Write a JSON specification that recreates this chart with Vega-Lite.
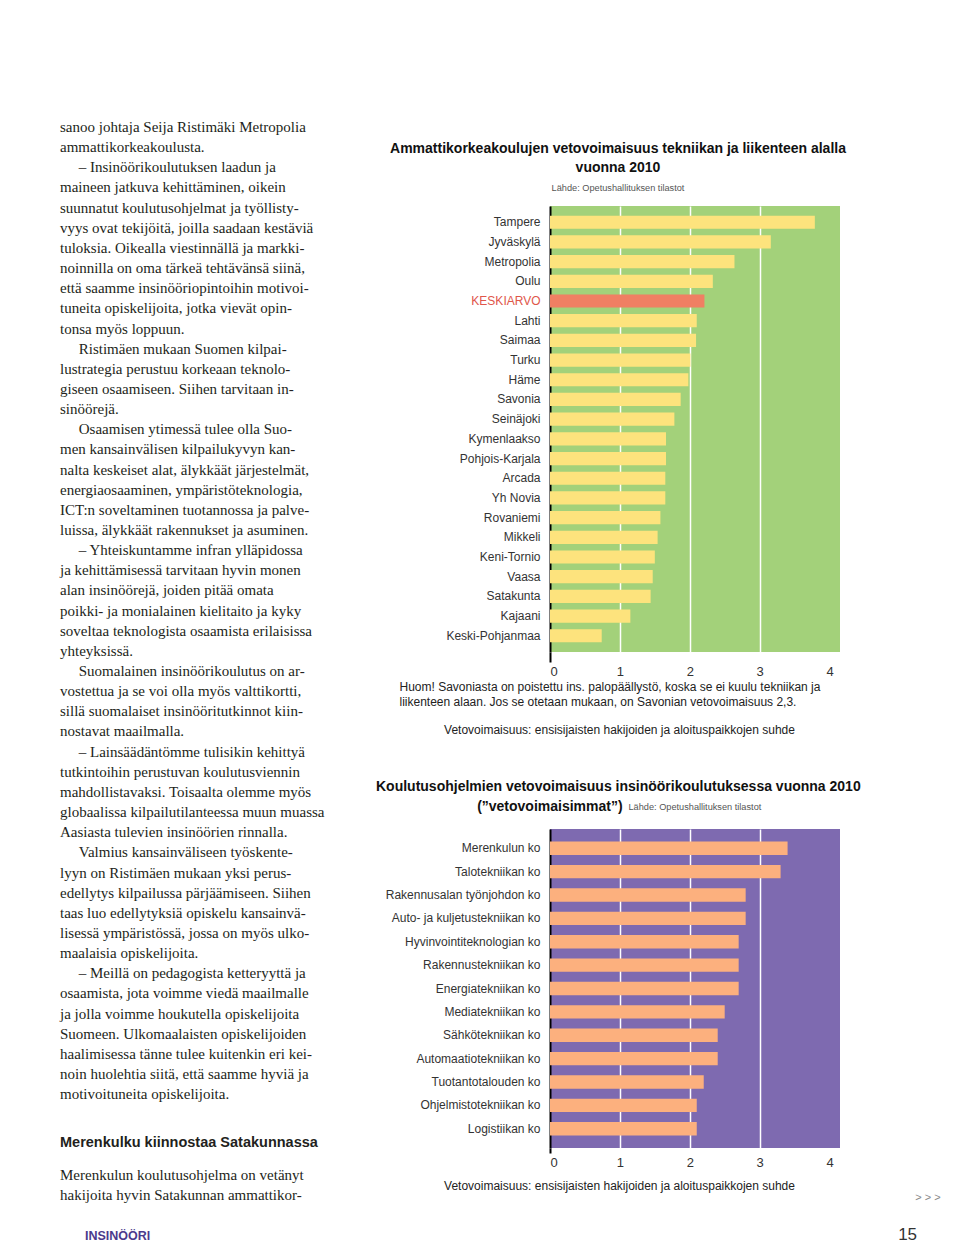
{
  "$schema": "https://vega.github.io/schema/vega-lite/v6.json",
  "background": "white",
  "padding": {"top": 120, "left": 60, "right": 15, "bottom": 6},
  "config": {"view": {"stroke": null}, "font": "Liberation Sans"},
  "datasets": {
    "article": [
      {"line": 1, "kind": "body", "text": "sanoo johtaja Seija Ristimäki Metropolia"},
      {"line": 2, "kind": "body", "text": "ammattikorkeakoulusta."},
      {"line": 3, "kind": "body", "text": "\u200b\u00a0\u00a0\u00a0\u00a0\u00a0– Insinöörikoulutuksen laadun ja"},
      {"line": 4, "kind": "body", "text": "maineen jatkuva kehittäminen, oikein"},
      {"line": 5, "kind": "body", "text": "suunnatut koulutusohjelmat ja työllisty-"},
      {"line": 6, "kind": "body", "text": "vyys ovat tekijöitä, joilla saadaan kestäviä"},
      {"line": 7, "kind": "body", "text": "tuloksia. Oikealla viestinnällä ja markki-"},
      {"line": 8, "kind": "body", "text": "noinnilla on oma tärkeä tehtävänsä siinä,"},
      {"line": 9, "kind": "body", "text": "että saamme insinööriopintoihin motivoi-"},
      {"line": 10, "kind": "body", "text": "tuneita opiskelijoita, jotka vievät opin-"},
      {"line": 11, "kind": "body", "text": "tonsa myös loppuun."},
      {"line": 12, "kind": "body", "text": "\u200b\u00a0\u00a0\u00a0\u00a0\u00a0Ristimäen mukaan Suomen kilpai-"},
      {"line": 13, "kind": "body", "text": "lustrategia perustuu korkeaan teknolo-"},
      {"line": 14, "kind": "body", "text": "giseen osaamiseen. Siihen tarvitaan in-"},
      {"line": 15, "kind": "body", "text": "sinöörejä."},
      {"line": 16, "kind": "body", "text": "\u200b\u00a0\u00a0\u00a0\u00a0\u00a0Osaamisen ytimessä tulee olla Suo-"},
      {"line": 17, "kind": "body", "text": "men kansainvälisen kilpailukyvyn kan-"},
      {"line": 18, "kind": "body", "text": "nalta keskeiset alat, älykkäät järjestelmät,"},
      {"line": 19, "kind": "body", "text": "energiaosaaminen, ympäristöteknologia,"},
      {"line": 20, "kind": "body", "text": "ICT:n soveltaminen tuotannossa ja palve-"},
      {"line": 21, "kind": "body", "text": "luissa, älykkäät rakennukset ja asuminen."},
      {"line": 22, "kind": "body", "text": "\u200b\u00a0\u00a0\u00a0\u00a0\u00a0– Yhteiskuntamme infran ylläpidossa"},
      {"line": 23, "kind": "body", "text": "ja kehittämisessä tarvitaan hyvin monen"},
      {"line": 24, "kind": "body", "text": "alan insinöörejä, joiden pitää omata"},
      {"line": 25, "kind": "body", "text": "poikki- ja monialainen kielitaito ja kyky"},
      {"line": 26, "kind": "body", "text": "soveltaa teknologista osaamista erilaisissa"},
      {"line": 27, "kind": "body", "text": "yhteyksissä."},
      {"line": 28, "kind": "body", "text": "\u200b\u00a0\u00a0\u00a0\u00a0\u00a0Suomalainen insinöörikoulutus on ar-"},
      {"line": 29, "kind": "body", "text": "vostettua ja se voi olla myös valttikortti,"},
      {"line": 30, "kind": "body", "text": "sillä suomalaiset insinööritutkinnot kiin-"},
      {"line": 31, "kind": "body", "text": "nostavat maailmalla."},
      {"line": 32, "kind": "body", "text": "\u200b\u00a0\u00a0\u00a0\u00a0\u00a0– Lainsäädäntömme tulisikin kehittyä"},
      {"line": 33, "kind": "body", "text": "tutkintoihin perustuvan koulutusviennin"},
      {"line": 34, "kind": "body", "text": "mahdollistavaksi. Toisaalta olemme myös"},
      {"line": 35, "kind": "body", "text": "globaalissa kilpailutilanteessa muun muassa"},
      {"line": 36, "kind": "body", "text": "Aasiasta tulevien insinöörien rinnalla."},
      {"line": 37, "kind": "body", "text": "\u200b\u00a0\u00a0\u00a0\u00a0\u00a0Valmius kansainväliseen työskente-"},
      {"line": 38, "kind": "body", "text": "lyyn on Ristimäen mukaan yksi perus-"},
      {"line": 39, "kind": "body", "text": "edellytys kilpailussa pärjäämiseen. Siihen"},
      {"line": 40, "kind": "body", "text": "taas luo edellytyksiä opiskelu kansainvä-"},
      {"line": 41, "kind": "body", "text": "lisessä ympäristössä, jossa on myös ulko-"},
      {"line": 42, "kind": "body", "text": "maalaisia opiskelijoita."},
      {"line": 43, "kind": "body", "text": "\u200b\u00a0\u00a0\u00a0\u00a0\u00a0– Meillä on pedagogista ketteryyttä ja"},
      {"line": 44, "kind": "body", "text": "osaamista, jota voimme viedä maailmalle"},
      {"line": 45, "kind": "body", "text": "ja jolla voimme houkutella opiskelijoita"},
      {"line": 46, "kind": "body", "text": "Suomeen. Ulkomaalaisten opiskelijoiden"},
      {"line": 47, "kind": "body", "text": "haalimisessa tänne tulee kuitenkin eri kei-"},
      {"line": 48, "kind": "body", "text": "noin huolehtia siitä, että saamme hyviä ja"},
      {"line": 49, "kind": "body", "text": "motivoituneita opiskelijoita."},
      {"line": 51.4, "kind": "heading", "text": "Merenkulku kiinnostaa Satakunnassa"},
      {"line": 53, "kind": "body", "text": "Merenkulun koulutusohjelma on vetänyt"},
      {"line": 54, "kind": "body", "text": "hakijoita hyvin Satakunnan ammattikor-"}
    ],
    "schools": [
      {"school": "Tampere", "value": 3.79},
      {"school": "Jyväskylä", "value": 3.16},
      {"school": "Metropolia", "value": 2.64},
      {"school": "Oulu", "value": 2.33},
      {"school": "KESKIARVO", "value": 2.21},
      {"school": "Lahti", "value": 2.1},
      {"school": "Saimaa", "value": 2.09},
      {"school": "Turku", "value": 2.01},
      {"school": "Häme", "value": 1.98},
      {"school": "Savonia", "value": 1.87},
      {"school": "Seinäjoki", "value": 1.78},
      {"school": "Kymenlaakso", "value": 1.66},
      {"school": "Pohjois-Karjala", "value": 1.66},
      {"school": "Arcada", "value": 1.65},
      {"school": "Yh Novia", "value": 1.65},
      {"school": "Rovaniemi", "value": 1.58},
      {"school": "Mikkeli", "value": 1.54},
      {"school": "Keni-Tornio", "value": 1.5},
      {"school": "Vaasa", "value": 1.47},
      {"school": "Satakunta", "value": 1.44},
      {"school": "Kajaani", "value": 1.15},
      {"school": "Keski-Pohjanmaa", "value": 0.74}
    ],
    "programmes": [
      {"programme": "Merenkulun ko", "value": 3.4},
      {"programme": "Talotekniikan ko", "value": 3.3},
      {"programme": "Rakennusalan työnjohdon ko", "value": 2.8},
      {"programme": "Auto- ja kuljetustekniikan ko", "value": 2.8},
      {"programme": "Hyvinvointiteknologian ko", "value": 2.7},
      {"programme": "Rakennustekniikan ko", "value": 2.7},
      {"programme": "Energiatekniikan ko", "value": 2.7},
      {"programme": "Mediatekniikan ko", "value": 2.5},
      {"programme": "Sähkötekniikan ko", "value": 2.4},
      {"programme": "Automaatiotekniikan ko", "value": 2.4},
      {"programme": "Tuotantotalouden ko", "value": 2.2},
      {"programme": "Ohjelmistotekniikan ko", "value": 2.1},
      {"programme": "Logistiikan ko", "value": 2.1}
    ]
  },
  "bounds": "flush",
  "spacing": 230,
  "hconcat": [
    {
      "width": 260,
      "height": 1000,
      "data": {"name": "article"},
      "title": {
        "text": "INSINÖÖRI",
        "orient": "bottom",
        "anchor": "start",
        "dx": 25,
        "offset": 24,
        "font": "Liberation Sans",
        "fontSize": 12.5,
        "fontWeight": "bold",
        "color": "#4b3a8c"
      },
      "layer": [
        {
          "transform": [{"filter": "datum.kind === 'body'"}],
          "mark": {"type": "text", "align": "left", "baseline": "middle", "font": "Liberation Serif", "fontSize": 15, "color": "#231f20"},
          "encoding": {
            "x": {"datum": 0, "type": "quantitative", "scale": {"domain": [0, 1]}, "axis": null},
            "y": {"field": "line", "type": "quantitative", "scale": {"domain": [4.92, 54.55], "reverse": true, "zero": false, "nice": false}, "axis": null},
            "text": {"field": "text"}
          }
        },
        {
          "transform": [{"filter": "datum.kind === 'heading'"}],
          "mark": {"type": "text", "align": "left", "baseline": "middle", "font": "Liberation Sans", "fontWeight": "bold", "fontSize": 14.5, "color": "#231f20"},
          "encoding": {
            "x": {"datum": 0, "type": "quantitative", "scale": {"domain": [0, 1]}, "axis": null},
            "y": {"field": "line", "type": "quantitative", "scale": {"domain": [4.92, 54.55], "reverse": true, "zero": false, "nice": false}, "axis": null},
            "text": {"field": "text"}
          }
        }
      ]
    },
    {
      "bounds": "flush",
      "spacing": 177,
      "title": {
        "text": "> > >",
        "subtitle": "15\u00a0\u00a0\u00a0\u00a0\u00a0\u200b",
        "orient": "bottom",
        "anchor": "end",
        "dx": 80,
        "offset": 1,
        "font": "Liberation Sans",
        "fontSize": 11,
        "fontWeight": "normal",
        "color": "#888888",
        "subtitleFont": "Liberation Sans",
        "subtitleFontSize": 17,
        "subtitleColor": "#333333",
        "subtitlePadding": 24
      },
      "vconcat": [
        {
          "width": 290,
          "height": 446,
          "view": {"fill": "#a3d17a", "stroke": null},
          "data": {"name": "schools"},
          "title": {
            "text": ["Ammattikorkeakoulujen vetovoimaisuus tekniikan ja liikenteen alalla", "vuonna 2010"],
            "subtitle": "Lähde: Opetushallituksen tilastot",
            "anchor": "middle",
            "dx": -77,
            "offset": 13,
            "font": "Liberation Sans",
            "fontSize": 14,
            "fontWeight": "bold",
            "lineHeight": 19,
            "color": "#111",
            "subtitleFont": "Liberation Sans",
            "subtitleFontSize": 9.2,
            "subtitleColor": "#555",
            "subtitlePadding": 9
          },
          "mark": {"type": "bar"},
          "encoding": {
            "y": {
              "field": "school", "type": "nominal", "sort": null,
              "scale": {"paddingInner": 0.33, "paddingOuter": 0.49},
              "axis": {
                "ticks": false, "domain": true, "domainColor": "#000", "domainWidth": 2,
                "labelPadding": 10, "labelFont": "Liberation Sans", "labelFontSize": 12,
                "labelColor": {"condition": {"test": "datum.value === 'KESKIARVO'", "value": "#e0564a"}, "value": "#333333"},
                "title": "Vetovoimaisuus: ensisijaisten hakijoiden ja aloituspaikkojen suhde",
                "titleAngle": 0, "titleX": 69, "titleY": 523, "titleAlign": "center", "titleBaseline": "middle",
                "titleFont": "Liberation Sans", "titleFontWeight": "normal", "titleFontSize": 12, "titleColor": "#222222"
              }
            },
            "x": {
              "field": "value", "type": "quantitative",
              "scale": {"domain": [0, 4.15], "nice": false},
              "axis": {
                "values": [0, 1, 2, 3, 4],
                "grid": true,
                "gridColor": {"condition": {"test": "datum.value >= 1 && datum.value <= 3", "value": "#ffffff"}, "value": "transparent"},
                "gridWidth": 1.5,
                "domain": false,
                "tickColor": {"condition": {"test": "datum.value === 0", "value": "#000000"}, "value": "transparent"},
                "tickWidth": 2, "tickSize": 10,
                "labelPadding": 3, "labelFont": "Liberation Sans", "labelFontSize": 13, "labelColor": "#333333",
                "title": [
                  "Huom! Savoniasta on poistettu ins. palopäällystö, koska se ei kuulu tekniikan ja",
                  "liikenteen alaan. Jos se otetaan mukaan, on Savonian vetovoimaisuus 2,3."
                ],
                "titleX": -151, "titleY": 29, "titleAlign": "left", "titleBaseline": "top",
                "titleFont": "Liberation Sans", "titleFontWeight": "normal", "titleFontSize": 12,
                "titleLineHeight": 15, "titleColor": "#222222"
              }
            },
            "color": {"condition": {"test": "datum.school === 'KESKIARVO'", "value": "#f07f63"}, "value": "#fde37d"}
          }
        },
        {
          "width": 290,
          "height": 319,
          "view": {"fill": "#7e6ab0", "stroke": null},
          "data": {"name": "programmes"},
          "title": {
            "text": ["Koulutusohjelmien vetovoimaisuus insinöörikoulutuksessa vuonna 2010", "\u200b\u00a0\u00a0\u00a0\u00a0\u00a0\u00a0\u00a0\u00a0\u00a0\u00a0\u00a0\u00a0\u00a0\u00a0\u00a0\u00a0\u00a0\u00a0\u00a0\u00a0\u00a0\u00a0\u00a0\u00a0\u00a0\u00a0(”vetovoimaisimmat”)"],
            "anchor": "start",
            "frame": "group",
            "align": "left",
            "dx": -174,
            "offset": -12,
            "font": "Liberation Sans",
            "fontSize": 14,
            "fontWeight": "bold",
            "lineHeight": 20,
            "color": "#111"
          },
          "mark": {"type": "bar"},
          "encoding": {
            "y": {
              "field": "programme", "type": "nominal", "sort": null,
              "scale": {"paddingInner": 0.43, "paddingOuter": 0.54},
              "axis": {
                "ticks": false, "domain": true, "domainColor": "#000", "domainWidth": 2,
                "labelPadding": 10, "labelFont": "Liberation Sans", "labelFontSize": 12, "labelColor": "#333333",
                "title": "Lähde: Opetushallituksen tilastot",
                "titleAngle": 0, "titleX": 78, "titleY": -23, "titleAlign": "left", "titleBaseline": "middle",
                "titleFont": "Liberation Sans", "titleFontWeight": "normal", "titleFontSize": 9.2, "titleColor": "#555555"
              }
            },
            "x": {
              "field": "value", "type": "quantitative",
              "scale": {"domain": [0, 4.15], "nice": false},
              "axis": {
                "values": [0, 1, 2, 3, 4],
                "grid": true,
                "gridColor": {"condition": {"test": "datum.value >= 1 && datum.value <= 3", "value": "#ffffff"}, "value": "transparent"},
                "gridWidth": 1.5,
                "domain": false,
                "tickColor": {"condition": {"test": "datum.value === 0", "value": "#000000"}, "value": "transparent"},
                "tickWidth": 2, "tickSize": 5,
                "labelPadding": 3, "labelFont": "Liberation Sans", "labelFontSize": 13, "labelColor": "#333333",
                "title": "Vetovoimaisuus: ensisijaisten hakijoiden ja aloituspaikkojen suhde",
                "titleX": 69, "titleY": 32, "titleAlign": "center", "titleBaseline": "top",
                "titleFont": "Liberation Sans", "titleFontWeight": "normal", "titleFontSize": 12,
                "titleColor": "#222222"
              }
            },
            "color": {"value": "#fcb07e"}
          }
        }
      ]
    }
  ]
}
